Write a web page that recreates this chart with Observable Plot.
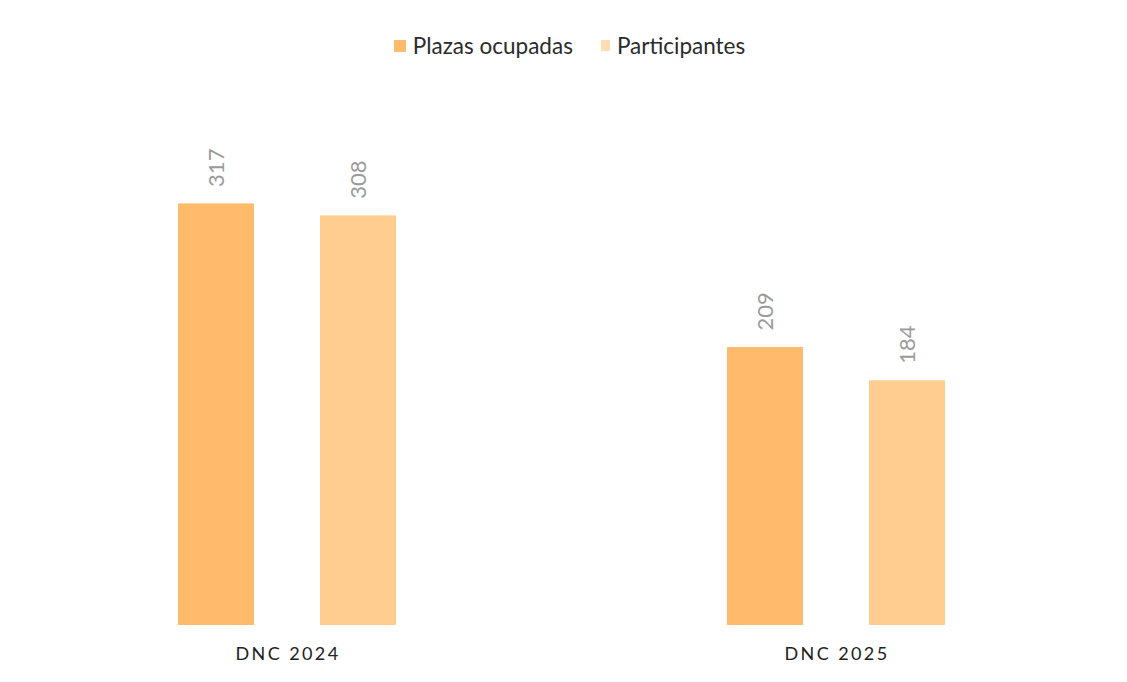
<!DOCTYPE html>
<html>
<head>
<meta charset="utf-8">
<script src="https://cdn.jsdelivr.net/npm/d3@7"></script>
<script src="https://cdn.jsdelivr.net/npm/@observablehq/plot@0.6"></script>
<style>
  html, body { margin: 0; padding: 0; background: #fff; }
  body { width: 1127px; height: 682px; overflow: hidden; font-family: Lato, "Open Sans", sans-serif; }
  #legend { height: 80px; display: flex; justify-content: center; align-items: flex-start; padding-top: 32px; box-sizing: border-box; font-size: 22.5px; color: #2b2b2b; gap: 28px; padding-left: 12px; }
  #legend .item { display: flex; align-items: center; gap: 7px; }
  #legend .sw { width: 12px; height: 12px; display: inline-block; }
  #chart svg [aria-label="fx-axis tick label"] { font-size: 18px; }
  #chart svg [aria-label="fx-axis tick label"] text { letter-spacing: 2.4px; font-size: 18px; }
</style>
</head>
<body>
<div id="legend"></div>
<div id="chart"></div>
<script>
const groups = ["DNC 2024", "DNC 2025"];
const series = ["Plazas ocupadas", "Participantes"];
const plazas = [317, 209];
const participantes = [308, 184];
const colors = ["#FFBA6C", "#FFCD90"];

const data = [];
groups.forEach((g, i) => {
  data.push({group: g, series: series[0], value: plazas[i]});
  data.push({group: g, series: series[1], value: participantes[i]});
});

const legend = document.getElementById("legend");
series.forEach((s, i) => {
  const it = document.createElement("div");
  it.className = "item";
  const sw = document.createElement("span");
  sw.className = "sw";
  sw.style.background = colors[i];
  if (i === 1) { sw.style.width = "9px"; sw.style.height = "11px"; sw.style.opacity = "0.7"; }
  const t = document.createElement("span");
  t.textContent = s;
  it.appendChild(sw); it.appendChild(t);
  legend.appendChild(it);
});

const chart = Plot.plot({
  width: 1127,
  height: 602,
  marginTop: 13,
  marginBottom: 57,
  marginLeft: 12,
  marginRight: 16,
  style: {fontFamily: "Lato, 'Open Sans', sans-serif", background: "#fff"},
  fx: {domain: groups, padding: 0, label: null},
  x: {domain: series, paddingInner: 0.4615, paddingOuter: 1.152, axis: null},
  y: {domain: [0, 400], axis: null},
  color: {domain: series, range: colors},
  marks: [
    Plot.axisFx({anchor: "bottom", tickSize: 0, tickPadding: 22, fontSize: 18, fill: "#222", label: null}),
    Plot.barY(data, {fx: "group", x: "series", y: "value", fill: "series"}),
    Plot.text(data, {fx: "group", x: "series", y: "value", text: d => String(d.value), rotate: -90, textAnchor: "start", dy: -17, fontSize: 22, fill: "#9a9a9a"})
  ]
});
document.getElementById("chart").appendChild(chart);
</script>
</body>
</html>
